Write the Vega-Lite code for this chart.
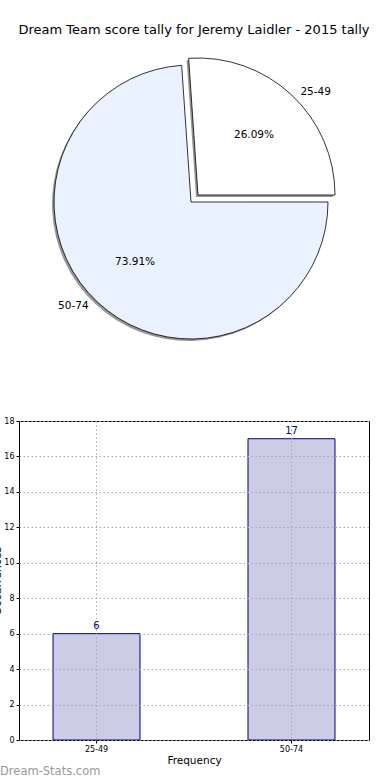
{
  "$schema": "https://vega.github.io/schema/vega-lite/v6.json",
  "padding": {"left": -9, "top": 24, "right": 0, "bottom": 0},
  "autosize": {"type": "pad"},
  "background": "white",
  "config": {
    "font": "DejaVu Sans",
    "view": {"stroke": null},
    "concat": {"spacing": 62}
  },
  "data": {
    "values": [
      {"range": "25-49", "count": 6, "pct": "26.09%"},
      {"range": "50-74", "count": 17, "pct": "73.91%"}
    ]
  },
  "vconcat": [
    {
      "width": 350,
      "height": 304,
      "title": {"text": "Dream Team score tally for Jeremy Laidler - 2015 tally", "fontSize": 13, "fontWeight": "normal", "color": "#000000", "offset": 13, "anchor": "middle"},
      "encoding": {
        "theta": {"field": "count", "type": "quantitative", "stack": true, "scale": {"range": [1.5708, -4.7124]}}
      },
      "layer": [
        {
          "mark": {"type": "arc", "radius": 137, "fill": "#6a6a6a", "stroke": null, "xOffset": -5, "yOffset": 2},
          "encoding": {"opacity": {"condition": {"test": "datum.range === '50-74'", "value": 0.7}, "value": 0}}
        },
        {
          "mark": {"type": "arc", "radius": 137, "fill": "#6a6a6a", "stroke": null, "xOffset": 2, "yOffset": -5},
          "encoding": {"opacity": {"condition": {"test": "datum.range === '25-49'", "value": 0.7}, "value": 0}}
        },
        {
          "mark": {"type": "arc", "radius": 137, "stroke": "#000000", "strokeWidth": 0.8, "xOffset": -3, "yOffset": 0},
          "encoding": {
            "color": {"field": "range", "type": "nominal", "scale": {"domain": ["25-49", "50-74"], "range": ["#ffffff", "#ebf2ff"]}, "legend": null},
            "opacity": {"condition": {"test": "datum.range === '50-74'", "value": 1}, "value": 0}
          }
        },
        {
          "mark": {"type": "arc", "radius": 137, "stroke": "#000000", "strokeWidth": 0.8, "xOffset": 4, "yOffset": -7},
          "encoding": {
            "color": {"field": "range", "type": "nominal", "scale": {"domain": ["25-49", "50-74"], "range": ["#ffffff", "#ebf2ff"]}, "legend": null},
            "opacity": {"condition": {"test": "datum.range === '25-49'", "value": 1}, "value": 0}
          }
        },
        {
          "mark": {"type": "text", "radius": 82, "fontSize": 10.5, "color": "#000000", "xOffset": -3, "yOffset": 0},
          "encoding": {
            "text": {"field": "pct"},
            "opacity": {"condition": {"test": "datum.range === '50-74'", "value": 1}, "value": 0}
          }
        },
        {
          "mark": {"type": "text", "radius": 82, "fontSize": 10.5, "color": "#000000", "xOffset": 4, "yOffset": -7},
          "encoding": {
            "text": {"field": "pct"},
            "opacity": {"condition": {"test": "datum.range === '25-49'", "value": 1}, "value": 0}
          }
        },
        {
          "mark": {"type": "text", "radius": 150, "fontSize": 10.5, "color": "#000000", "align": "right", "baseline": "middle", "xOffset": -3, "yOffset": -6},
          "encoding": {
            "text": {"field": "range"},
            "opacity": {"condition": {"test": "datum.range === '50-74'", "value": 1}, "value": 0}
          }
        },
        {
          "mark": {"type": "text", "radius": 150, "fontSize": 10.5, "color": "#000000", "align": "left", "baseline": "middle", "xOffset": 4, "yOffset": 0},
          "encoding": {
            "text": {"field": "range"},
            "opacity": {"condition": {"test": "datum.range === '25-49'", "value": 1}, "value": 0}
          }
        }
      ]
    },
    {
      "width": 350,
      "height": 319,
      "view": {"stroke": "#000000", "strokeWidth": 1},
      "title": {"text": "Dream-Stats.com", "orient": "bottom", "anchor": "start", "frame": "group", "dx": -19, "offset": 0, "fontSize": 11.5, "fontWeight": "normal", "color": "#999999"},
      "encoding": {
        "x": {
          "field": "range", "type": "nominal",
          "scale": {"paddingInner": 0.554, "paddingOuter": 0.1745},
          "axis": {"labelAngle": 0, "title": "Frequency", "titleFontSize": 10.5, "titleFontWeight": "normal", "titleColor": "#000000", "titlePadding": 2, "labelFontSize": 8, "labelColor": "#000000", "labelPadding": 2, "bandPosition": 0.5, "grid": true, "gridDash": [1.5, 2.5], "gridColor": "#a8a8a8", "tickColor": "#000000", "tickSize": 3, "domain": false, "zindex": 1}
        },
        "y": {
          "field": "count", "type": "quantitative",
          "scale": {"domain": [0, 18], "nice": false},
          "axis": {"values": [0, 2, 4, 6, 8, 10, 12, 14, 16, 18], "title": "Occurrences", "titleFontSize": 11, "titleFontWeight": "normal", "titleColor": "#000000", "titlePadding": 1, "labelFontSize": 8, "labelColor": "#000000", "labelPadding": 2, "grid": true, "gridDash": [1.5, 2.5], "gridColor": "#a8a8a8", "tickColor": "#000000", "tickSize": 3, "domain": false, "zindex": 1}
        }
      },
      "layer": [
        {"mark": {"type": "bar", "fill": "#ccccE6", "stroke": "#000080", "strokeWidth": 1}},
        {"mark": {"type": "text", "baseline": "bottom", "dy": -3, "fontSize": 10, "color": "#000080"}, "encoding": {"text": {"field": "count"}}}
      ]
    }
  ]
}
